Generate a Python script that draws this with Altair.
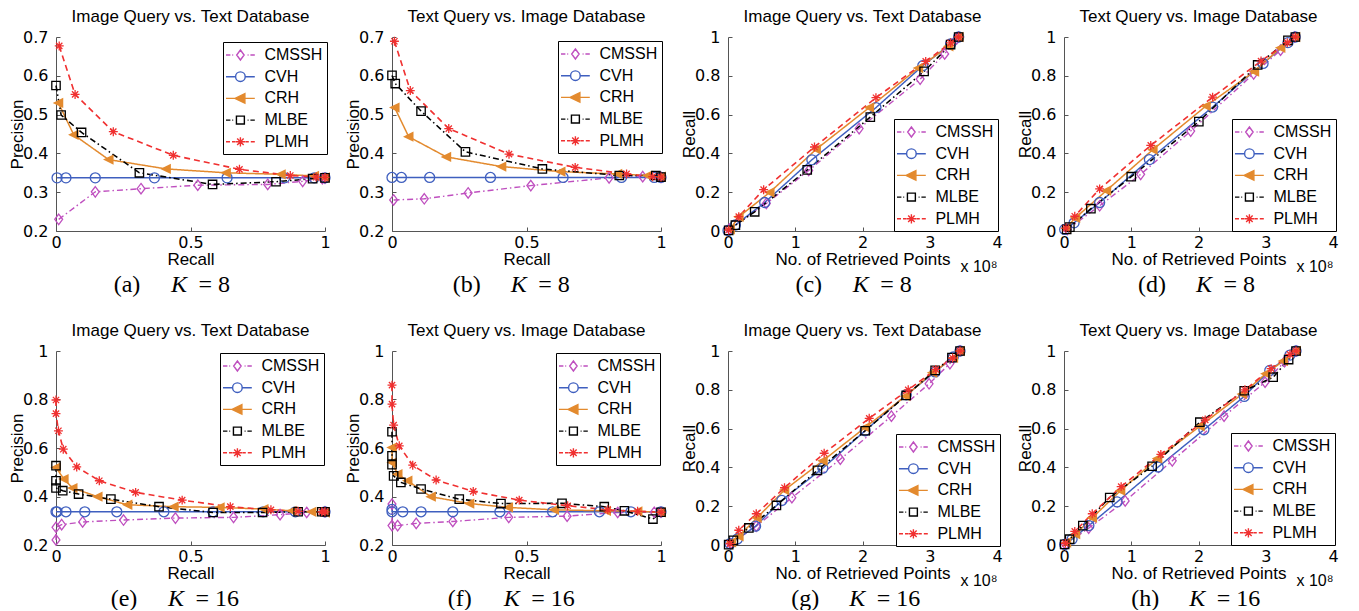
import altair as alt
import pandas as pd

METHODS = ["CMSSH", "CVH", "CRH", "MLBE", "PLMH"]
COLORS = ["#BF4FBF", "#3F5FBF", "#E38A2E", "#000000", "#F03030"]

# ---------------- data ----------------
# (a) K=8, Image query vs Text db : recall (x) / precision (y)
A_CMSSH_X = [0.01, 0.146, 0.316, 0.527, 0.787, 0.917, 0.99, 1.0]
A_CMSSH_Y = [0.23, 0.301, 0.309, 0.318, 0.320, 0.328, 0.335, 0.336]
A_CVH_X = [0.004, 0.037, 0.146, 0.366, 0.636, 0.85, 0.96, 1.0]
A_CVH_Y = [0.337, 0.337, 0.337, 0.337, 0.337, 0.337, 0.337, 0.337]
A_CRH_X = [0.009, 0.066, 0.196, 0.409, 0.632, 0.836, 0.96, 1.0]
A_CRH_Y = [0.530, 0.448, 0.384, 0.360, 0.350, 0.346, 0.342, 0.338]
A_MLBE_X = [0.0, 0.019, 0.095, 0.31, 0.582, 0.818, 0.954, 1.0]
A_MLBE_Y = [0.575, 0.499, 0.454, 0.350, 0.320, 0.327, 0.335, 0.337]
A_PLMH_X = [0.012, 0.071, 0.213, 0.436, 0.682, 0.871, 0.967, 1.0]
A_PLMH_Y = [0.677, 0.552, 0.456, 0.395, 0.359, 0.343, 0.339, 0.338]

# (b) K=8, Text query vs Image db
B_CMSSH_X = [0.006, 0.12, 0.283, 0.516, 0.807, 0.932, 1.0]
B_CMSSH_Y = [0.280, 0.283, 0.298, 0.317, 0.337, 0.340, 0.338]
B_CVH_X = [0.0, 0.035, 0.14, 0.366, 0.636, 0.853, 0.975, 1.0]
B_CVH_Y = [0.338, 0.338, 0.338, 0.338, 0.338, 0.338, 0.338, 0.338]
B_CRH_X = [0.01, 0.062, 0.202, 0.407, 0.627, 0.838, 0.95, 1.0]
B_CRH_Y = [0.518, 0.443, 0.391, 0.366, 0.353, 0.347, 0.343, 0.340]
B_MLBE_X = [0.0, 0.012, 0.108, 0.273, 0.559, 0.845, 0.981, 1.0]
B_MLBE_Y = [0.601, 0.580, 0.509, 0.404, 0.360, 0.343, 0.343, 0.339]
B_PLMH_X = [0.009, 0.068, 0.211, 0.435, 0.681, 0.872, 0.969, 1.0]
B_PLMH_Y = [0.689, 0.562, 0.464, 0.398, 0.364, 0.347, 0.340, 0.339]

# (c) K=8, Image query vs Text db : retrieved points (x 1e8) / recall
C_CMSSH_X = [0.02, 0.57, 1.2, 1.95, 2.857, 3.222, 3.40, 3.43]
C_CMSSH_Y = [0.01, 0.142, 0.312, 0.528, 0.783, 0.913, 0.99, 1.0]
C_CVH_X = [0.0, 0.11, 0.546, 1.247, 2.2, 2.896, 3.31, 3.43]
C_CVH_Y = [0.003, 0.031, 0.147, 0.367, 0.636, 0.852, 0.964, 1.0]
C_CRH_X = [0.03, 0.16, 0.62, 1.31, 2.1, 2.83, 3.28, 3.43]
C_CRH_Y = [0.009, 0.073, 0.199, 0.421, 0.636, 0.84, 0.952, 1.0]
C_MLBE_X = [0.01, 0.11, 0.397, 1.178, 2.116, 2.916, 3.31, 3.43]
C_MLBE_Y = [0.003, 0.03, 0.099, 0.315, 0.587, 0.823, 0.961, 1.0]
C_PLMH_X = [0.01, 0.16, 0.53, 1.286, 2.2, 2.94, 3.31, 3.43]
C_PLMH_Y = [0.005, 0.074, 0.213, 0.433, 0.687, 0.874, 0.97, 1.0]

# (d) K=8, Text query vs Image db
D_CMSSH_X = [0.05, 0.53, 1.14, 1.884, 2.82, 3.22, 3.43]
D_CMSSH_Y = [0.008, 0.13, 0.292, 0.515, 0.81, 0.932, 1.0]
D_CVH_X = [0.01, 0.15, 0.53, 1.27, 2.21, 2.96, 3.33, 3.44]
D_CVH_Y = [0.008, 0.042, 0.147, 0.368, 0.639, 0.864, 0.971, 1.0]
D_CRH_X = [0.03, 0.17, 0.63, 1.32, 2.11, 2.83, 3.22, 3.44]
D_CRH_Y = [0.014, 0.068, 0.208, 0.419, 0.644, 0.822, 0.944, 1.0]
D_MLBE_X = [0.04, 0.087, 0.4, 1.0, 2.005, 2.88, 3.33, 3.44]
D_MLBE_Y = [0.008, 0.02, 0.115, 0.28, 0.564, 0.856, 0.983, 1.0]
D_PLMH_X = [0.03, 0.16, 0.53, 1.29, 2.21, 2.93, 3.32, 3.44]
D_PLMH_Y = [0.015, 0.076, 0.217, 0.441, 0.69, 0.876, 0.971, 1.0]

# (e) K=16, Image query vs Text db
E_CMSSH_X = [0.0, 0.0, 0.021, 0.099, 0.251, 0.444, 0.66, 0.833, 0.932, 1.0]
E_CMSSH_Y = [0.221, 0.273, 0.284, 0.295, 0.303, 0.311, 0.314, 0.325, 0.334, 0.337]
E_CVH_X = [0.0, 0.004, 0.037, 0.107, 0.226, 0.401, 0.584, 0.77, 0.89, 1.0]
E_CVH_Y = [0.337, 0.337, 0.337, 0.337, 0.337, 0.337, 0.337, 0.337, 0.337, 0.337]
E_CRH_X = [0.0, 0.029, 0.062, 0.155, 0.266, 0.438, 0.609, 0.772, 0.877, 0.95, 1.0]
E_CRH_Y = [0.52, 0.472, 0.435, 0.399, 0.366, 0.358, 0.355, 0.348, 0.341, 0.337, 0.334]
E_MLBE_X = [0.0, 0.0, 0.0, 0.025, 0.084, 0.204, 0.383, 0.584, 0.768, 0.9, 0.988, 1.0]
E_MLBE_Y = [0.527, 0.465, 0.435, 0.424, 0.41, 0.389, 0.358, 0.334, 0.334, 0.337, 0.337, 0.337]
E_PLMH_X = [0.0, 0.0, 0.009, 0.027, 0.077, 0.161, 0.296, 0.469, 0.648, 0.799, 0.90, 0.988, 1.0]
E_PLMH_Y = [0.798, 0.742, 0.671, 0.595, 0.522, 0.465, 0.417, 0.385, 0.358, 0.345, 0.339, 0.337, 0.337]

# (f) K=16, Text query vs Image db
F_CMSSH_X = [0.0, 0.0, 0.021, 0.09, 0.226, 0.434, 0.651, 0.839, 0.975, 1.0]
F_CMSSH_Y = [0.369, 0.28, 0.28, 0.289, 0.297, 0.314, 0.319, 0.334, 0.335, 0.335]
F_CVH_X = [0.0, 0.0, 0.04, 0.108, 0.226, 0.401, 0.597, 0.771, 0.888, 1.0]
F_CVH_Y = [0.347, 0.337, 0.337, 0.337, 0.337, 0.337, 0.337, 0.337, 0.337, 0.337]
F_CRH_X = [0.0, 0.0, 0.021, 0.058, 0.145, 0.288, 0.432, 0.603, 0.796, 0.913, 1.0]
F_CRH_Y = [0.602, 0.54, 0.492, 0.465, 0.399, 0.371, 0.355, 0.345, 0.341, 0.339, 0.335]
F_MLBE_X = [0.0, 0.0, 0.0, 0.006, 0.033, 0.108, 0.25, 0.405, 0.632, 0.789, 0.864, 0.97, 1.0]
F_MLBE_Y = [0.667, 0.568, 0.531, 0.485, 0.458, 0.431, 0.389, 0.371, 0.372, 0.358, 0.341, 0.307, 0.335]
F_PLMH_X = [0.0, 0.0, 0.006, 0.027, 0.077, 0.164, 0.302, 0.473, 0.653, 0.802, 0.913, 1.0]
F_PLMH_Y = [0.859, 0.781, 0.694, 0.609, 0.529, 0.468, 0.421, 0.385, 0.362, 0.345, 0.339, 0.335]

# (g) K=16, Image query vs Text db : retrieved points / recall
G_CMSSH_X = [0.04, 0.42, 0.95, 1.67, 2.43, 2.99, 3.30, 3.45]
G_CMSSH_Y = [0.007, 0.097, 0.244, 0.442, 0.664, 0.831, 0.935, 1.0]
G_CVH_X = [0.03, 0.14, 0.41, 0.80, 1.41, 2.04, 2.65, 3.08, 3.35, 3.45]
G_CVH_Y = [0.007, 0.031, 0.097, 0.23, 0.396, 0.589, 0.774, 0.892, 0.969, 1.0]
G_CRH_X = [0.05, 0.16, 0.43, 0.84, 1.41, 2.04, 2.64, 3.04, 3.35, 3.45]
G_CRH_Y = [0.014, 0.045, 0.14, 0.283, 0.434, 0.606, 0.767, 0.888, 0.964, 1.0]
G_MLBE_X = [0.01, 0.08, 0.31, 0.72, 1.33, 2.04, 2.65, 3.08, 3.33, 3.45]
G_MLBE_Y = [0.002, 0.024, 0.088, 0.204, 0.385, 0.589, 0.771, 0.90, 0.966, 1.0]
G_PLMH_X = [0.03, 0.16, 0.42, 0.84, 1.43, 2.1, 2.68, 3.09, 3.34, 3.45]
G_PLMH_Y = [0.007, 0.076, 0.161, 0.295, 0.473, 0.653, 0.80, 0.905, 0.964, 1.0]

# (h) K=16, Text query vs Image db
H_CMSSH_X = [0.025, 0.367, 0.91, 1.61, 2.38, 2.99, 3.28, 3.45]
H_CMSSH_Y = [0.003, 0.087, 0.227, 0.434, 0.664, 0.839, 0.945, 1.0]
H_CVH_X = [0.01, 0.12, 0.37, 0.79, 1.40, 2.08, 2.68, 3.06, 3.36, 3.45]
H_CVH_Y = [0.003, 0.03, 0.1, 0.222, 0.402, 0.594, 0.766, 0.90, 0.979, 1.0]
H_CRH_X = [0.035, 0.17, 0.42, 0.84, 1.39, 2.02, 2.65, 3.0, 3.26, 3.45]
H_CRH_Y = [0.012, 0.056, 0.14, 0.28, 0.446, 0.612, 0.778, 0.883, 0.948, 1.0]
H_MLBE_X = [0.01, 0.084, 0.28, 0.68, 1.31, 2.02, 2.68, 3.11, 3.34, 3.45]
H_MLBE_Y = [0.003, 0.03, 0.1, 0.245, 0.406, 0.633, 0.795, 0.865, 0.956, 1.0]
H_PLMH_X = [0.02, 0.16, 0.42, 0.85, 1.44, 2.10, 2.69, 3.08, 3.36, 3.45]
H_PLMH_Y = [0.009, 0.07, 0.161, 0.301, 0.467, 0.645, 0.80, 0.909, 0.983, 1.0]

PANEL_LETTERS = ["a", "b", "c", "d", "e", "f", "g", "h"]
PANEL_K = ["8", "8", "8", "8", "16", "16", "16", "16"]
TITLE_IMG = "Image Query vs. Text Database"
TITLE_TXT = "Text Query vs. Image Database"
PANEL_TITLES = [TITLE_IMG, TITLE_TXT] * 4
PR_XTICKS = [0, 0.5, 1]
PR_YTICKS_8 = [0.2, 0.3, 0.4, 0.5, 0.6, 0.7]
PR_YTICKS_16 = [0.2, 0.4, 0.6, 0.8, 1]
RN_XTICKS = [0, 1, 2, 3, 4]
RN_YTICKS = [0, 0.2, 0.4, 0.6, 0.8, 1]

SERIES = {
    "a": [(A_CMSSH_X, A_CMSSH_Y), (A_CVH_X, A_CVH_Y), (A_CRH_X, A_CRH_Y), (A_MLBE_X, A_MLBE_Y), (A_PLMH_X, A_PLMH_Y)],
    "b": [(B_CMSSH_X, B_CMSSH_Y), (B_CVH_X, B_CVH_Y), (B_CRH_X, B_CRH_Y), (B_MLBE_X, B_MLBE_Y), (B_PLMH_X, B_PLMH_Y)],
    "c": [(C_CMSSH_X, C_CMSSH_Y), (C_CVH_X, C_CVH_Y), (C_CRH_X, C_CRH_Y), (C_MLBE_X, C_MLBE_Y), (C_PLMH_X, C_PLMH_Y)],
    "d": [(D_CMSSH_X, D_CMSSH_Y), (D_CVH_X, D_CVH_Y), (D_CRH_X, D_CRH_Y), (D_MLBE_X, D_MLBE_Y), (D_PLMH_X, D_PLMH_Y)],
    "e": [(E_CMSSH_X, E_CMSSH_Y), (E_CVH_X, E_CVH_Y), (E_CRH_X, E_CRH_Y), (E_MLBE_X, E_MLBE_Y), (E_PLMH_X, E_PLMH_Y)],
    "f": [(F_CMSSH_X, F_CMSSH_Y), (F_CVH_X, F_CVH_Y), (F_CRH_X, F_CRH_Y), (F_MLBE_X, F_MLBE_Y), (F_PLMH_X, F_PLMH_Y)],
    "g": [(G_CMSSH_X, G_CMSSH_Y), (G_CVH_X, G_CVH_Y), (G_CRH_X, G_CRH_Y), (G_MLBE_X, G_MLBE_Y), (G_PLMH_X, G_PLMH_Y)],
    "h": [(H_CMSSH_X, H_CMSSH_Y), (H_CVH_X, H_CVH_Y), (H_CRH_X, H_CRH_Y), (H_MLBE_X, H_MLBE_Y), (H_PLMH_X, H_PLMH_Y)],
}

# ---------------- styling ----------------
W, H = 269, 194
AX = "#555555"
SANS = "Liberation Sans"
DASHES = [[6, 3, 1.5, 3], [1, 0], [1, 0], [6, 3, 1.5, 3], [6, 4]]
WIDTHS = [1.4, 1.6, 2.2, 1.4, 1.6]
CAP_LEFT = [51, 54.7, 60.7, 68, 48, 47.7, 57.3, 61.3]
LEG_X = [167, 166, 166, 168, 164, 164, 168, 167]
LEG_Y = [5, 4, 82, 82, 2, 2, 83, 82]


def f(v):
    return ("%.3f" % v).rstrip("0").rstrip(".")


def diamond(r):
    return f"M0,{f(-r)}L{f(0.75*r)},0L0,{f(r)}L{f(-0.75*r)},0Z"


def circle(r):
    return f"M{f(-r)},0A{f(r)},{f(r)} 0 1,0 {f(r)},0A{f(r)},{f(r)} 0 1,0 {f(-r)},0Z"


def trileft(r):
    return f"M{f(-r)},0L{f(0.85*r)},{f(-0.9*r)}L{f(0.85*r)},{f(0.9*r)}Z"


def square(r):
    a = 0.8 * r
    return f"M{f(-a)},{f(-a)}H{f(a)}V{f(a)}H{f(-a)}Z"


def asterisk(r):
    d = 0.7 * r
    return (f"M{f(-r)},0H{f(r)}M0,{f(-r)}V{f(r)}"
            f"M{f(-d)},{f(-d)}L{f(d)},{f(d)}M{f(-d)},{f(d)}L{f(d)},{f(-d)}")


PLOT_PATHS = [diamond(1), circle(1), trileft(1), square(1), asterisk(1)]
PLOT_SIZES = [110, 100, 130, 110, 80]
PLOT_FILLED = [False, False, True, False, False]

SOLID = "M-1.8,0H-0.62M0.62,0H1.8"
DASHDOT = "M-1.8,0H-1.25M-1.02,0H-0.9M0.9,0H1.02M1.25,0H1.8"
DASHED = "M-1.8,0H-1.3M-1.05,0H-0.62M0.62,0H1.05M1.3,0H1.8"
LEG_PATHS = [DASHDOT + diamond(0.62), SOLID + circle(0.6), SOLID + trileft(0.66),
             DASHDOT + square(0.62), DASHED + asterisk(0.58)]
LEG_FILLS = ["transparent", "transparent", COLORS[2], "transparent", "transparent"]


def blank_axis(**kw):
    base = dict(labels=False, ticks=False, domain=False, grid=False)
    base.update(kw)
    return alt.Axis(**base)


def make_panel(idx):
    letter = PANEL_LETTERS[idx]
    kind = "rn" if letter in "cdgh" else "pr"
    rows = []
    for m, (xs, ys) in zip(METHODS, SERIES[letter]):
        for i, (x, y) in enumerate(zip(xs, ys)):
            rows.append({"m": m, "x": x, "y": y, "i": i})
    df = pd.DataFrame(rows)

    if kind == "pr":
        xdom, xticks = [0, 1], PR_XTICKS
        if letter in "ab":
            ydom, yticks = [0.2, 0.7], PR_YTICKS_8
        else:
            ydom, yticks = [0.2, 1], PR_YTICKS_16
        xtitle, ytitle = "Recall", "Precision"
    else:
        xdom, xticks = [0, 4], RN_XTICKS
        ydom, yticks = [0, 1], RN_YTICKS
        xtitle, ytitle = "No. of Retrieved Points", "Recall"

    xs = alt.Scale(domain=xdom, nice=False, zero=False)
    ys = alt.Scale(domain=ydom, nice=False, zero=False)
    color = alt.Color("m:N", scale=alt.Scale(domain=METHODS, range=COLORS), legend=None)

    main_x = alt.Axis(orient="bottom", values=xticks, format="~g", labelFont="DejaVu Sans",
                      labelFontSize=16, labelColor="black", labelPadding=3, labelFlush=False,
                      labelOverlap=False, ticks=False, tickSize=0, domain=True, domainColor=AX,
                      domainWidth=1, grid=False, title=xtitle, titleFont=SANS, titleFontSize=17,
                      titleFontWeight="normal", titleColor="black", titlePadding=1)
    main_y = alt.Axis(orient="left", values=yticks, format="~g", labelFont="DejaVu Sans",
                      labelFontSize=16, labelColor="black", labelPadding=8, labelFlush=False,
                      labelOverlap=False, ticks=False, tickSize=0, domain=True, domainColor=AX,
                      domainWidth=1, grid=False, title=ytitle, titleFont=SANS, titleFontSize=17,
                      titleFontWeight="normal", titleColor="black", titlePadding=-3.5)

    base = alt.Chart(df)
    lines = base.mark_line(strokeCap="butt").encode(
        x=alt.X("x:Q", scale=xs, axis=main_x),
        y=alt.Y("y:Q", scale=ys, axis=main_y),
        color=color,
        strokeDash=alt.StrokeDash("m:N", scale=alt.Scale(domain=METHODS, range=DASHES), legend=None),
        strokeWidth=alt.StrokeWidth("m:N", scale=alt.Scale(domain=METHODS, range=WIDTHS), legend=None),
        order=alt.Order("i:Q"),
    )

    cl = CAP_LEFT[idx]
    cap_common = dict(titleY=60, titleBaseline="alphabetic", titleFont="Liberation Serif",
                      titleFontSize=24, titleFontWeight="normal", titleColor="black", titleAngle=0)
    x_axes = [
        alt.Axis(orient="bottom", offset=-4, values=xticks, ticks=True, tickSize=4, tickColor=AX,
                 tickWidth=1, labels=False, domain=False, grid=False, title=None),
        blank_axis(orient="bottom", title=f"({letter})", titleX=cl + 19.5, titleAlign="center",
                   titleFontStyle="normal", **cap_common),
        blank_axis(orient="bottom", title="K", titleX=cl + 71.5, titleAlign="center",
                   titleFontStyle="italic", **cap_common),
        blank_axis(orient="bottom", title=f"= {PANEL_K[idx]}", titleX=cl + 91, titleAlign="left",
                   titleFontStyle="normal", **cap_common),
        (blank_axis(orient="bottom", title="x 10\u2078", titleX=W, titleY=40, titleAlign="right",
                    titleBaseline="alphabetic", titleFont=SANS, titleFontSize=16,
                    titleFontWeight="normal", titleColor="black", titleAngle=0)
         if kind == "rn" else None),
    ]
    y_axes = [
        alt.Axis(orient="left", offset=-4, values=yticks, ticks=True, tickSize=4, tickColor=AX,
                 tickWidth=1, labels=False, domain=False, grid=False, title=None),
        None, None, None, None,
    ]

    pts = []
    for k, m in enumerate(METHODS):
        pts.append(
            base.transform_filter(alt.datum.m == m)
            .mark_point(shape=PLOT_PATHS[k], size=PLOT_SIZES[k], filled=PLOT_FILLED[k],
                        strokeWidth=1.3, opacity=1)
            .encode(x=alt.X("x:Q", scale=xs, axis=x_axes[k]),
                    y=alt.Y("y:Q", scale=ys, axis=y_axes[k]),
                    color=color)
        )

    leg = alt.Legend(orient="none", legendX=LEG_X[idx], legendY=LEG_Y[idx], direction="vertical",
                     title=None, fillColor="white", strokeColor="black", padding=4,
                     cornerRadius=0, labelFont=SANS, labelFontSize=16, labelColor="black",
                     labelOffset=15, rowPadding=4.7, symbolSize=256, symbolOffset=4.4,
                     symbolStrokeWidth=1.4, labelExpr="datum.label + '\u2005'")
    legend_layer = base.transform_filter("false").mark_point(filled=False, opacity=1).encode(
        shape=alt.Shape("m:N", scale=alt.Scale(domain=METHODS, range=LEG_PATHS), legend=leg),
        stroke=alt.Stroke("m:N", scale=alt.Scale(domain=METHODS, range=COLORS), legend=leg),
        fill=alt.Fill("m:N", scale=alt.Scale(domain=METHODS, range=LEG_FILLS), legend=leg),
    )

    return alt.layer(lines, *pts, legend_layer).resolve_axis(
        x="independent", y="independent"
    ).properties(
        width=W, height=H,
        title=alt.TitleParams(text=PANEL_TITLES[idx], font=SANS, fontSize=17,
                              fontWeight="normal", color="black", anchor="middle",
                              frame="group", offset=-10, baseline="alphabetic"),
    )


panels = [make_panel(i) for i in range(8)]

chart = alt.concat(*panels, columns=4, spacing={"row": 120, "column": 67}, bounds="flush").resolve_legend(
    shape="independent", stroke="independent", fill="independent"
).properties(
    padding=0, background="white"
).configure_view(stroke=None)

chart.save("out.html", embed_options={"renderer": "svg", "actions": False})
